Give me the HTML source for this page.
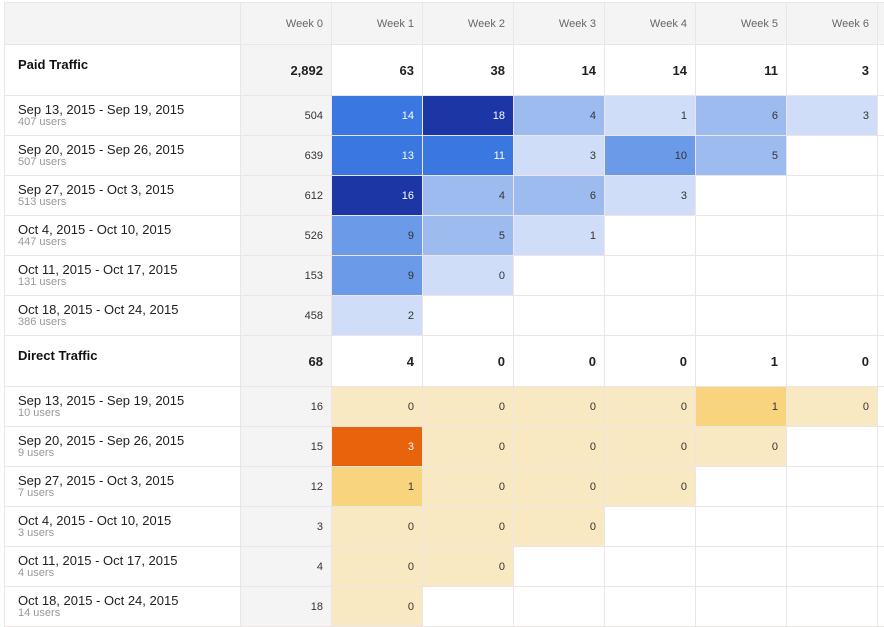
<!DOCTYPE html>
<html><head><style>
body{margin:0;background:#fff;width:884px;height:626px;overflow:hidden;font-family:"Liberation Sans",Arial,sans-serif}
.g{position:absolute;left:4px;top:2px;display:grid;grid-template-columns:236px 91px 91px 91px 91px 91px 91px 91px 7px;grid-template-rows:42px 51px repeat(6,40px) 51px repeat(6,40px);border-left:1px solid #ede5e5;border-top:1px solid #ede5e5;box-sizing:border-box}
.g>div{box-sizing:border-box;border-right:1px solid #ede5e5;border-bottom:1px solid #ede5e5;text-align:right;padding-right:8px;font-size:11px;color:#333;display:flex;align-items:center;justify-content:flex-end;white-space:nowrap;overflow:hidden}
.h{background:#f4f4f4;color:#666!important}
.s{font-size:13px!important;font-weight:bold;color:#222!important}
.l{justify-content:flex-start!important;text-align:left!important;padding-left:13px;font-size:13px!important;color:#222!important;line-height:14px;flex-direction:column;align-items:flex-start!important;justify-content:center!important}
.l small{display:block;font-size:11px;color:#999;line-height:11px}
.sl{justify-content:flex-start!important;align-items:flex-start!important;padding:12px 0 0 13px;font-size:13px!important;font-weight:bold;color:#111!important}
.w{background:#f4f4f4}
.b1{background:#1c36a6;color:#fff!important}.b2{background:#3a77e0;color:#fff!important}.b3{background:#6b9ae9}.b4{background:#9ebbf0}.b5{background:#cfddf8}
.o1{background:#f9e9c3}.o2{background:#f8d47f}.o3{background:#e9620c;color:#fff!important}
</style></head><body>
<div class="g">
<div class="h"></div><div class="h">Week 0</div><div class="h">Week 1</div><div class="h">Week 2</div><div class="h">Week 3</div><div class="h">Week 4</div><div class="h">Week 5</div><div class="h">Week 6</div><div class="h"></div>
<div class="sl">Paid Traffic</div><div class="s w">2,892</div><div class="s">63</div><div class="s">38</div><div class="s">14</div><div class="s">14</div><div class="s">11</div><div class="s">3</div><div></div>
<div class="l">Sep 13, 2015 - Sep 19, 2015<small>407 users</small></div><div class="w">504</div><div class="b2">14</div><div class="b1">18</div><div class="b4">4</div><div class="b5">1</div><div class="b4">6</div><div class="b5">3</div><div></div>
<div class="l">Sep 20, 2015 - Sep 26, 2015<small>507 users</small></div><div class="w">639</div><div class="b2">13</div><div class="b2">11</div><div class="b5">3</div><div class="b3">10</div><div class="b4">5</div><div></div><div></div>
<div class="l">Sep 27, 2015 - Oct 3, 2015<small>513 users</small></div><div class="w">612</div><div class="b1">16</div><div class="b4">4</div><div class="b4">6</div><div class="b5">3</div><div></div><div></div><div></div>
<div class="l">Oct 4, 2015 - Oct 10, 2015<small>447 users</small></div><div class="w">526</div><div class="b3">9</div><div class="b4">5</div><div class="b5">1</div><div></div><div></div><div></div><div></div>
<div class="l">Oct 11, 2015 - Oct 17, 2015<small>131 users</small></div><div class="w">153</div><div class="b3">9</div><div class="b5">0</div><div></div><div></div><div></div><div></div><div></div>
<div class="l">Oct 18, 2015 - Oct 24, 2015<small>386 users</small></div><div class="w">458</div><div class="b5">2</div><div></div><div></div><div></div><div></div><div></div><div></div>
<div class="sl">Direct Traffic</div><div class="s w">68</div><div class="s">4</div><div class="s">0</div><div class="s">0</div><div class="s">0</div><div class="s">1</div><div class="s">0</div><div></div>
<div class="l">Sep 13, 2015 - Sep 19, 2015<small>10 users</small></div><div class="w">16</div><div class="o1">0</div><div class="o1">0</div><div class="o1">0</div><div class="o1">0</div><div class="o2">1</div><div class="o1">0</div><div></div>
<div class="l">Sep 20, 2015 - Sep 26, 2015<small>9 users</small></div><div class="w">15</div><div class="o3">3</div><div class="o1">0</div><div class="o1">0</div><div class="o1">0</div><div class="o1">0</div><div></div><div></div>
<div class="l">Sep 27, 2015 - Oct 3, 2015<small>7 users</small></div><div class="w">12</div><div class="o2">1</div><div class="o1">0</div><div class="o1">0</div><div class="o1">0</div><div></div><div></div><div></div>
<div class="l">Oct 4, 2015 - Oct 10, 2015<small>3 users</small></div><div class="w">3</div><div class="o1">0</div><div class="o1">0</div><div class="o1">0</div><div></div><div></div><div></div><div></div>
<div class="l">Oct 11, 2015 - Oct 17, 2015<small>4 users</small></div><div class="w">4</div><div class="o1">0</div><div class="o1">0</div><div></div><div></div><div></div><div></div><div></div>
<div class="l">Oct 18, 2015 - Oct 24, 2015<small>14 users</small></div><div class="w">18</div><div class="o1">0</div><div></div><div></div><div></div><div></div><div></div><div></div>
</div>
</body></html>
